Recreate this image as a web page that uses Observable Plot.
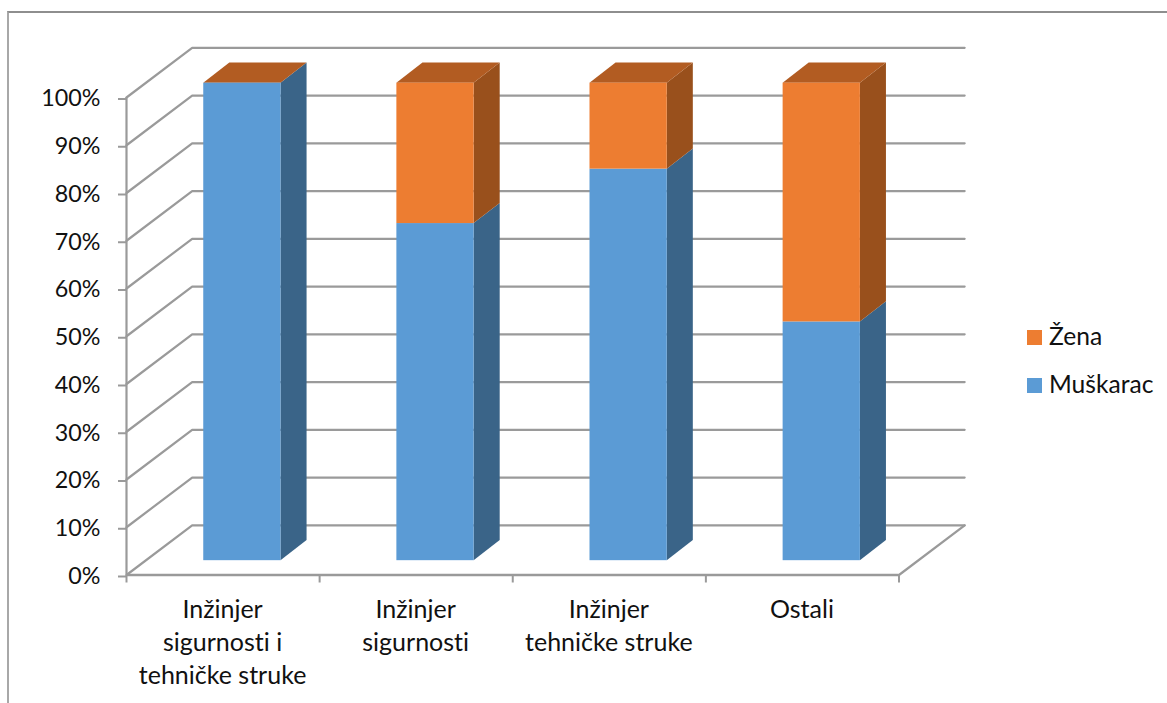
<!DOCTYPE html>
<html>
<head>
<meta charset="utf-8">
<script src="https://cdn.jsdelivr.net/npm/d3@7"></script>
<script src="https://cdn.jsdelivr.net/npm/@observablehq/plot@0.6"></script>
<style>
html,body{margin:0;padding:0;background:#fff;overflow:hidden}
#wrap{position:relative;width:1167px;height:703px;font-family:Lato,"Open Sans",sans-serif;color:#111;font-variant-ligatures:none}
#frame{position:absolute;left:7px;top:11px;right:0;bottom:0;border-top:2px solid #8e8e8e;border-left:2px solid #a8a8a8;box-sizing:border-box;pointer-events:none}
#chart{position:absolute;left:0;top:0}
#chart svg{display:block;background:transparent}
#chart svg text{font-variant-ligatures:none}
.lg{position:absolute;left:1027px;font-size:24.6px;line-height:24px;white-space:nowrap}
.lg i{position:absolute;left:0;top:5px;width:15px;height:15px}
.lg span{position:absolute;left:22px;top:-1px}
</style>
</head>
<body>
<div id="wrap"><div id="frame"></div><div id="chart"></div>
<div class="lg" style="top:325px"><i style="background:#ed7d31"></i><span>Žena</span></div>
<div class="lg" style="top:373px"><i style="background:#5b9bd5"></i><span>Muškarac</span></div>
</div>
<script>
const categories = ["Inžinjer\nsigurnosti i\ntehničke struke", "Inžinjer\nsigurnosti", "Inžinjer\ntehničke struke", "Ostali"];
const muskarac = [100, 70.6, 82, 50];
const zena = [0, 29.4, 18, 50];
const yTicks = [0,10,20,30,40,50,60,70,80,90,100];
const xTicks = [0,1,2,3,4];

// 3D projection expressed in scale units
const wallDx = 0.34, wallDy = 10.4;
const barLeft = 0.4, barWidth = 0.4, barLift = 3.0;
const sideDx = 0.135, sideDy = 4.2;

const colors = {
  mFront:"#5b9bd5", mSide:"#3a6488", zFront:"#ed7d31", zSide:"#99501c", zTop:"#b25c22"
};

const grid = yTicks.flatMap(v => [
  {k:v, x:0, y:v},
  {k:v, x:wallDx, y:v+wallDy},
  {k:v, x:4+wallDx, y:v+wallDy}
]);
const floorEdge = [{x:4, y:0},{x:4+wallDx, y:wallDy}];

const fronts = [], sides = [], tops = [];
categories.forEach((c,i) => {
  const x1 = i+barLeft, x2 = x1+barWidth;
  const m = muskarac[i], z = zena[i];
  fronts.push({x1,x2,y1:barLift,y2:barLift+m,fill:colors.mFront});
  if (z>0) fronts.push({x1,x2,y1:barLift+m,y2:barLift+m+z,fill:colors.zFront});
  const side = (key,lo,hi,fill) => sides.push(
    {key,x:x2,y1:barLift+lo,y2:barLift+hi,fill},
    {key,x:x2+sideDx,y1:barLift+lo+sideDy,y2:barLift+hi+sideDy,fill});
  side("m"+i,0,m,colors.mSide);
  if (z>0) side("z"+i,m,m+z,colors.zSide);
  const t = barLift+m+z;
  tops.push({key:i,y:t,x1,x2,fill:colors.zTop},{key:i,y:t+sideDy,x1:x1+sideDx,x2:x2+sideDx,fill:colors.zTop});
});

const gridColor = "#9a9a9a";
const plot = Plot.plot({
  width:1167, height:703,
  marginLeft:126, marginRight:268.5, marginTop:97, marginBottom:128.5,
  style:{background:"transparent", fontFamily:"Lato, 'Open Sans', sans-serif", color:"#111"},
  x:{domain:[0,4], axis:null},
  y:{domain:[0,100], axis:null},
  marks:[
    Plot.line(grid,{x:"x",y:"y",z:"k",stroke:gridColor,strokeWidth:2.2,curve:"linear"}),
    Plot.line(floorEdge,{x:"x",y:"y",stroke:gridColor,strokeWidth:2.2}),
    Plot.ruleX([0],{y1:0,y2:100,stroke:gridColor,strokeWidth:2.2}),
    Plot.ruleY([0],{x1:0,x2:4,stroke:gridColor,strokeWidth:2.5}),
    Plot.axisY({ticks:yTicks,anchor:"left",tickSize:8,tickPadding:18,tickFormat:d=>d+"%",fontSize:23.3,dy:1.5,stroke:gridColor,strokeWidth:2,label:null}),
    Plot.axisX({ticks:xTicks,anchor:"bottom",tickSize:8,tickFormat:()=>"",stroke:gridColor,strokeWidth:2,label:null}),
    Plot.areaY(sides,{x:"x",y1:"y1",y2:"y2",z:"key",fill:"fill",curve:"linear"}),
    Plot.areaX(tops,{y:"y",x1:"x1",x2:"x2",z:"key",fill:"fill",curve:"linear"}),
    Plot.rect(fronts,{x1:"x1",x2:"x2",y1:"y1",y2:"y2",fill:"fill",inset:0}),
    Plot.text(categories,{x:(d,i)=>i+0.5,y:()=>0,text:d=>d,dx:-0.5,dy:20,lineAnchor:"top",lineHeight:1.32,fontSize:25,fill:"#111",textAnchor:"middle"})
  ]
});
document.getElementById("chart").appendChild(plot);
</script>
</body>
</html>
